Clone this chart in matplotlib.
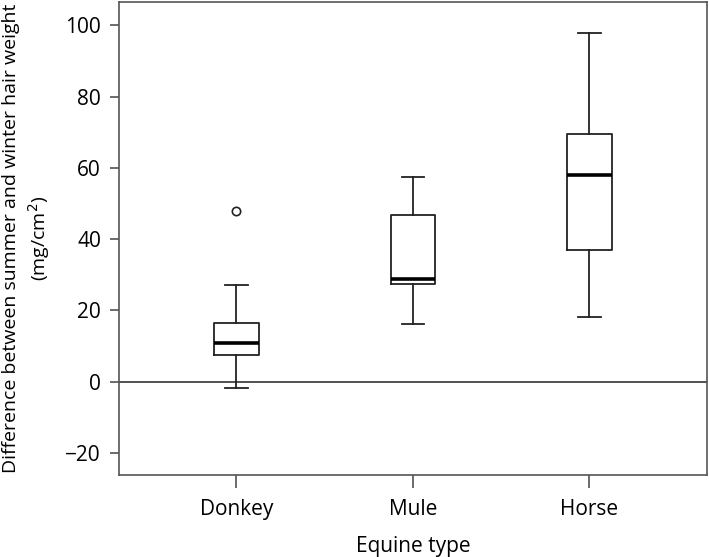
import matplotlib
matplotlib.use("Agg")
import matplotlib.pyplot as plt

# values
categories = ["Donkey", "Mule", "Horse"]
whisker_low = [-1.8, 16.1, 18.2]
q1 = [7.5, 27.3, 37.0]
median = [10.8, 28.9, 57.9]
q3 = [16.6, 46.7, 69.6]
whisker_high = [27.2, 57.4, 97.8]
outliers = [[47.8], [], []]

yticks = [-20, 0, 20, 40, 60, 80, 100]

plt.rcParams["font.family"] = ["Open Sans", "DejaVu Sans"]

stats = []
for i, name in enumerate(categories):
    stats.append(dict(label=name, whislo=whisker_low[i], q1=q1[i], med=median[i],
                      q3=q3[i], whishi=whisker_high[i], fliers=outliers[i]))

fig = plt.figure(figsize=(7.09, 5.57), dpi=100)
ax = fig.add_axes([0.168, 0.147, 0.829, 0.849])

ax.axhline(0, color="#333333", lw=1.2, zorder=1)

ax.bxp(stats, positions=[1, 2, 3], widths=0.25,
       boxprops=dict(color="#222222", lw=1.3),
       whiskerprops=dict(color="#222222", lw=1.3),
       capprops=dict(color="#222222", lw=1.3),
       capwidths=0.125,
       medianprops=dict(color="black", lw=2.6),
       flierprops=dict(marker="o", markersize=6, markerfacecolor="white",
                       markeredgecolor="#222222", markeredgewidth=1.2),
       zorder=3)

ax.set_xlim(0.335, 3.665)
ax.set_ylim(-26.2, 106.45)
ax.set_yticks(yticks)
ax.set_yticklabels([str(t).replace("-", "\u2212") for t in yticks])
ax.tick_params(axis="both", labelsize=15, width=1.1, color="#444444")
ax.tick_params(axis="y", length=6.5, pad=6.5)
ax.tick_params(axis="x", length=9.5, pad=8)

for s in ax.spines.values():
    s.set_color("#555555")
    s.set_linewidth(1.2)

ax.set_xlabel("Equine type", fontsize=15, labelpad=11)
ax.set_ylabel("Difference between summer and winter hair weight\n(mg/cm$^2$)",
              fontsize=14, linespacing=1.3)
ax.yaxis.set_label_coords(-0.115, 0.5)

fig.savefig("out.png", dpi=100)
